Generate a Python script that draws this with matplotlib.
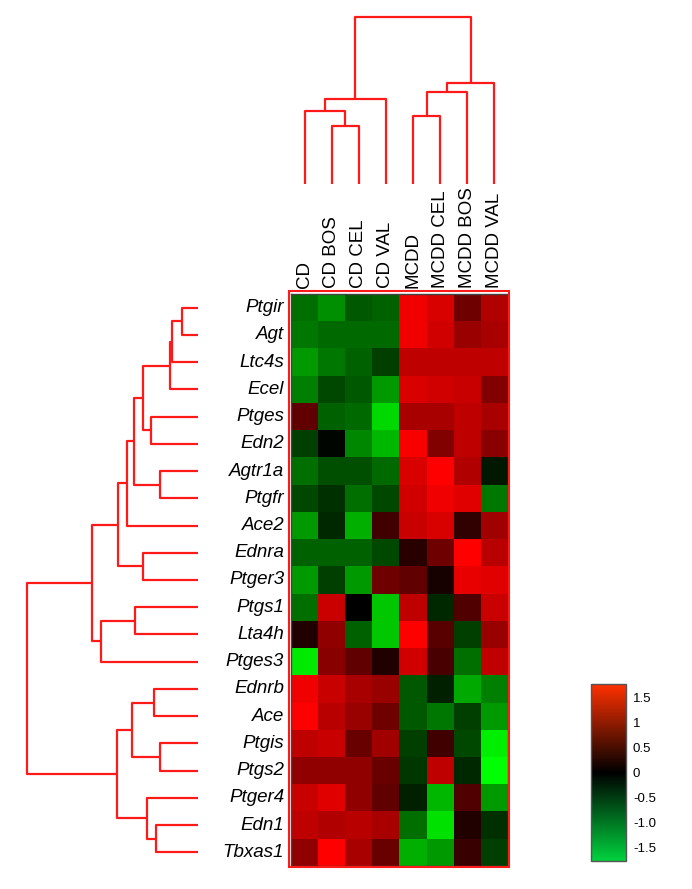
import numpy as np
import matplotlib
matplotlib.use('Agg')
import matplotlib.pyplot as plt
from matplotlib.colors import LinearSegmentedColormap, Normalize
from matplotlib.patches import Rectangle
from matplotlib.cm import ScalarMappable

plt.rcParams['font.family'] = ['Liberation Sans', 'DejaVu Sans']

# --- data -------------------------------------------------------------------
samples = ['CD', 'CD BOS', 'CD CEL', 'CD VAL',
           'MCDD', 'MCDD CEL', 'MCDD BOS', 'MCDD VAL']
genes = ['Ptgir', 'Agt', 'Ltc4s', 'Ecel', 'Ptges', 'Edn2', 'Agtr1a', 'Ptgfr',
         'Ace2', 'Ednra', 'Ptger3', 'Ptgs1', 'Lta4h', 'Ptges3', 'Ednrb', 'Ace',
         'Ptgis', 'Ptgs2', 'Ptger4', 'Edn1', 'Tbxas1']

expr = np.array([
    [-0.70, -0.90, -0.56, -0.61,  1.50,  1.36,  0.70,  1.10],
    [-0.75, -0.66, -0.66, -0.66,  1.50,  1.31,  0.96,  1.06],
    [-0.96, -0.75, -0.61, -0.40,  1.20,  1.20,  1.20,  1.20],
    [-0.80, -0.45, -0.56, -0.96,  1.36,  1.31,  1.25,  0.80],
    [ 0.61, -0.61, -0.66, -1.36,  1.06,  1.06,  1.20,  1.06],
    [-0.40, -0.03, -0.85, -1.15,  1.55,  0.80,  1.20,  0.85],
    [-0.70, -0.50, -0.50, -0.66,  1.36,  1.60,  1.10, -0.14],
    [-0.45, -0.30, -0.70, -0.45,  1.31,  1.50,  1.41, -0.75],
    [-0.96, -0.26, -1.10,  0.40,  1.25,  1.36,  0.30,  1.01],
    [-0.61, -0.61, -0.61, -0.45,  0.26,  0.70,  1.60,  1.15],
    [-0.96, -0.40, -0.96,  0.70,  0.61,  0.14,  1.46,  1.41],
    [-0.70,  1.25,  0.00, -1.25,  1.20, -0.26,  0.50,  1.25],
    [ 0.21,  0.90, -0.61, -1.25,  1.60,  0.54, -0.40,  0.96],
    [-1.46,  0.85,  0.61,  0.21,  1.31,  0.45, -0.70,  1.20],
    [ 1.50,  1.25,  1.06,  0.96, -0.56, -0.21, -1.06, -0.80],
    [ 1.60,  1.15,  0.96,  0.70, -0.56, -0.75, -0.40, -0.96],
    [ 1.20,  1.25,  0.66,  1.01, -0.40,  0.40, -0.45, -1.50],
    [ 0.90,  0.90,  0.90,  0.66, -0.35,  1.20, -0.26, -1.60],
    [ 1.25,  1.41,  0.90,  0.61, -0.21, -1.15,  0.50, -0.96],
    [ 1.20,  1.10,  1.15,  1.06, -0.70, -1.41,  0.21, -0.30],
    [ 0.90,  1.60,  1.06,  0.66, -1.10, -0.96,  0.35, -0.40],
])

# dendrogram merges (child a, child b, height), leaves numbered in display order
col_merges = [(1, 2, 58.0), (0, 8, 73.3), (9, 3, 85.3), (4, 5, 68.3),
              (11, 6, 92.0), (12, 7, 101.0), (10, 13, 166.7)]
row_merges = [(0, 1, 15.7), (21, 2, 26.3), (22, 3, 28.0), (4, 5, 47.0),
              (23, 24, 55.3), (6, 7, 38.3), (25, 26, 64.3), (27, 8, 71.0),
              (9, 10, 55.3), (28, 29, 79.7), (11, 12, 62.7), (31, 13, 97.3),
              (30, 32, 105.7), (14, 15, 43.7), (16, 17, 38.0), (34, 35, 65.7),
              (19, 20, 42.0), (18, 37, 50.7), (36, 38, 81.3), (33, 39, 171.3)]

cbar_ticks = [1.5, 1, 0.5, 0, -0.5, -1.0, -1.5]
cbar_ticklabels = ['1.5', '1', '0.5', '0', '-0.5', '-1.0', '-1.5']

# --- figure -----------------------------------------------------------------
W, H = 692, 889
fig = plt.figure(figsize=(W / 100, H / 100), dpi=100)


def px(x0, y0, x1, y1):
    # pixel box (top-left origin) -> figure fraction rect
    return [x0 / W, 1 - y1 / H, (x1 - x0) / W, (y1 - y0) / H]


def draw_dendro(ax, merges, n, orient):
    pos = {i: float(i) for i in range(n)}
    hgt = {i: 0.0 for i in range(n)}
    for k, (a, b, h) in enumerate(merges):
        xs = [pos[a], pos[a], pos[b], pos[b]]
        ys = [hgt[a], h, h, hgt[b]]
        if orient == 'top':
            ax.plot(xs, ys, color='#ff1a1a', lw=1.6, clip_on=False,
                    solid_capstyle='butt')
        else:
            ax.plot(ys, xs, color='#ff1a1a', lw=1.6, clip_on=False,
                    solid_capstyle='butt')
        pos[n + k] = (pos[a] + pos[b]) / 2
        hgt[n + k] = h
    ax.axis('off')


heat_cmap = LinearSegmentedColormap.from_list(
    'gkr', [(0, 1, 0), (0, 0, 0), (1, 0, 0)])

ax = fig.add_axes(px(291, 294, 508, 866))
ax.imshow(expr, cmap=heat_cmap, vmin=-1.6, vmax=1.6, aspect='auto',
          interpolation='nearest')
ax.set_xlim(-0.5, len(samples) - 0.5)
ax.set_ylim(len(genes) - 0.5, -0.5)
ax.set_xticks([])
ax.set_yticks([])
for s in ax.spines.values():
    s.set_color('#444444')
    s.set_linewidth(1.0)

for j, name in enumerate(samples):
    ax.text(j, 1.0105, name, transform=ax.get_xaxis_transform(),
            rotation=90, ha='center', va='bottom', fontsize=13.5)
for i, name in enumerate(genes):
    ax.text(-0.032, i, name, transform=ax.get_yaxis_transform(),
            ha='right', va='center', fontsize=13.5, style='italic')

# red frame around the heatmap
fig.add_artist(Rectangle((288.5 / W, 1 - 867 / H), 220 / W, 576.5 / H,
                         transform=fig.transFigure, fill=False,
                         ec='#ff1a1a', lw=1.5))

# column dendrogram
axc = fig.add_axes(px(291, 17, 508, 184))
draw_dendro(axc, col_merges, len(samples), 'top')
axc.set_xlim(-0.5, len(samples) - 0.5)
axc.set_ylim(0, 166.7)

# row dendrogram
axr = fig.add_axes(px(26.7, 294, 198, 866))
draw_dendro(axr, row_merges, len(genes), 'left')
axr.set_xlim(171.3, 0)
axr.set_ylim(len(genes) - 0.5, -0.5)

# colour key
bar_cmap = LinearSegmentedColormap.from_list(
    'key', [(0, 0.82, 0.24), (0, 0, 0), (1, 0.19, 0)])
cax = fig.add_axes(px(591, 684, 626, 861))
sm = ScalarMappable(norm=Normalize(-1.77, 1.77), cmap=bar_cmap)
cb = fig.colorbar(sm, cax=cax)
cb.set_ticks(cbar_ticks)
cb.set_ticklabels(cbar_ticklabels)
cb.ax.tick_params(length=0, pad=5, labelsize=9.5)
cb.outline.set_edgecolor('#555555')
cb.outline.set_linewidth(1.0)

plt.savefig('out.png', dpi=100)
